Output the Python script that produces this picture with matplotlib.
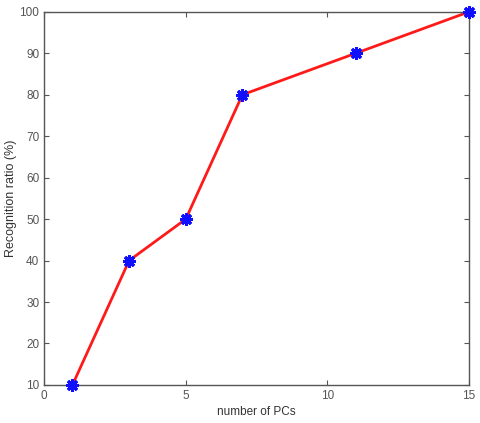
import matplotlib

matplotlib.use("Agg")
import matplotlib.pyplot as plt

num_pcs = [1, 3, 5, 7, 11, 15]
recognition_ratio = [10, 40, 50, 80, 90, 100]
x_ticks = [0, 5, 10, 15]
y_ticks = list(range(10, 101, 10))

plt.rcParams["font.family"] = ["Liberation Sans", "DejaVu Sans"]

fig = plt.figure(figsize=(4.8, 4.23), dpi=100)
ax = fig.add_axes((0.092, 0.09, 0.885, 0.882))

ax.plot(num_pcs, recognition_ratio, color="#ff1a1a", linewidth=2.0, zorder=2)
ax.plot(num_pcs, recognition_ratio, linestyle="none", marker=(8, 2, 0), markersize=9,
        markeredgewidth=2.2, color="#1010ff", zorder=3, clip_on=False)

ax.set_xlim(0, 15)
ax.set_ylim(10, 100)
ax.set_xticks(x_ticks)
ax.set_yticks(y_ticks)
ax.tick_params(direction="in", length=3.5, width=0.8, colors="#555555", labelsize=8.5,
               top=True, right=True)
for spine in ax.spines.values():
    spine.set_color("#555555")
    spine.set_linewidth(1.0)

ax.set_xlabel("number of PCs", fontsize=8.5, color="#333333", labelpad=3)
ax.set_ylabel("Recognition ratio (%)", fontsize=9, color="#333333", labelpad=2)

fig.savefig("out.png", dpi=100)
